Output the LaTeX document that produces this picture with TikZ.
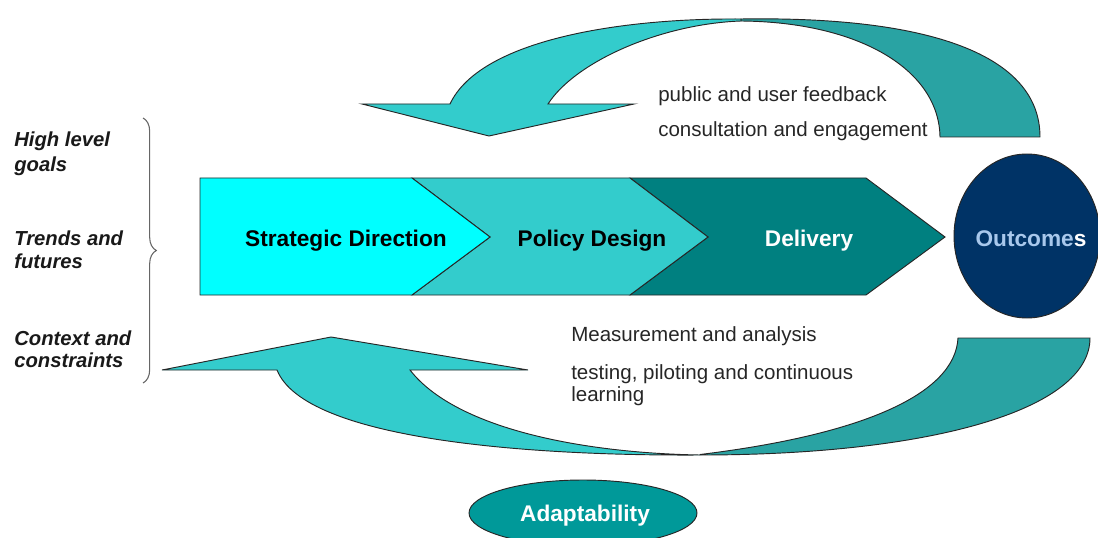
\documentclass[tikz,border=0pt]{standalone}
\usepackage{fontspec}
\setmainfont{Liberation Sans}
\usetikzlibrary{decorations.pathreplacing}
\definecolor{cyanA}{HTML}{00FFFF}
\definecolor{tealL}{HTML}{33CCCC}
\definecolor{tealD}{HTML}{008080}
\definecolor{tealM}{HTML}{29A3A3}
\definecolor{navyO}{HTML}{003366}
\definecolor{adaptC}{HTML}{009999}
\definecolor{outTxt}{HTML}{A8C8EC}
\begin{document}
\begin{tikzpicture}[x=0.75pt,y=-0.75pt,
  shp/.style={draw=black!85, line width=0.7pt, line join=miter},
  lab/.style={font=\fontsize{15.4}{18}\selectfont, inner sep=0pt, anchor=base west, text=black!85},
  side/.style={font=\fontsize{15.2}{18}\selectfont\bfseries\itshape, inner sep=0pt, anchor=base west, text=black!90},
  big/.style={font=\fontsize{17}{20}\selectfont\bfseries, inner sep=0pt, anchor=base}]
\useasboundingbox (0,0) rectangle (1098,538);

% top feedback arrow
\path[shp, fill=tealM] (741,19) .. controls (930,16) and (1040,55) .. (1040,137)
  -- (940,137) .. controls (939,70) and (860,22) .. (741,21) -- cycle;
\path[shp, fill=tealL] (362,104) -- (450,104) .. controls (480,40) and (620,18) .. (741,19)
  -- (741,21) .. controls (660,24) and (575,62) .. (548,104) -- (634,104) -- (489,136) -- cycle;

% bottom learning arrow
\path[shp, fill=tealM] (700,455) .. controls (930,455) and (1090,410) .. (1090,338)
  -- (958,338) .. controls (955,395) and (860,435) .. (700,454.5) -- cycle;
\path[shp, fill=tealL] (162,370) -- (331,337) -- (528,370) -- (410,370)
  .. controls (455,428) and (580,453) .. (700,455)
  .. controls (530,456) and (305,440) .. (277,370) -- cycle;

% chevrons
\path[shp, fill=tealD] (630,178) -- (866,178) -- (945,237) -- (866,295) -- (630,295) -- (708,237) -- cycle;
\path[shp, fill=tealL] (412,178) -- (630,178) -- (708,237) -- (630,295) -- (412,295) -- (490,237) -- cycle;
\path[shp, fill=cyanA] (200,178) -- (412,178) -- (490,237) -- (412,295) -- (200,295) -- cycle;

% outcomes
\path[shp, fill=navyO] (1027,236) ellipse [x radius=73, y radius=82];
% adaptability
\path[shp, fill=adaptC] (583,513) ellipse [x radius=114, y radius=33];

% brace
\draw[decorate, decoration={brace, amplitude=10pt}, black!60, line width=0.8pt] (143,118) -- (143,383);

% texts
\node[big] (sd) at (346,246) {Strategic Direction};
\node[big] (pd) at (592,246) {Policy Design};
\node[big, text=white] (dl) at (809,246) {Delivery};
\node[big] (oc) at (1031,246) {\textcolor{outTxt}{Outcome}\textcolor{white}{s}};
\node[big, text=white] (ad) at (585,521) {Adaptability};

\node[lab] (t1) at (658,102) {public and user feedback};
\node[lab] (t2) at (658,137) {consultation and engagement};
\node[lab] (b1) at (571,341) {Measurement and analysis};
\node[lab] (b2) at (571,379) {testing, piloting and continuous};
\node[lab] (b3) at (571,401) {learning};

\node[side] (l1) at (14,147) {High level};
\node[side] (l2) at (14,172) {goals};
\node[side] (l3) at (14,245) {Trends and};
\node[side] (l4) at (14,268) {futures};
\node[side] (l5) at (14,345) {Context and};
\node[side] (l6) at (14,367) {constraints};
\end{tikzpicture}
\end{document}
